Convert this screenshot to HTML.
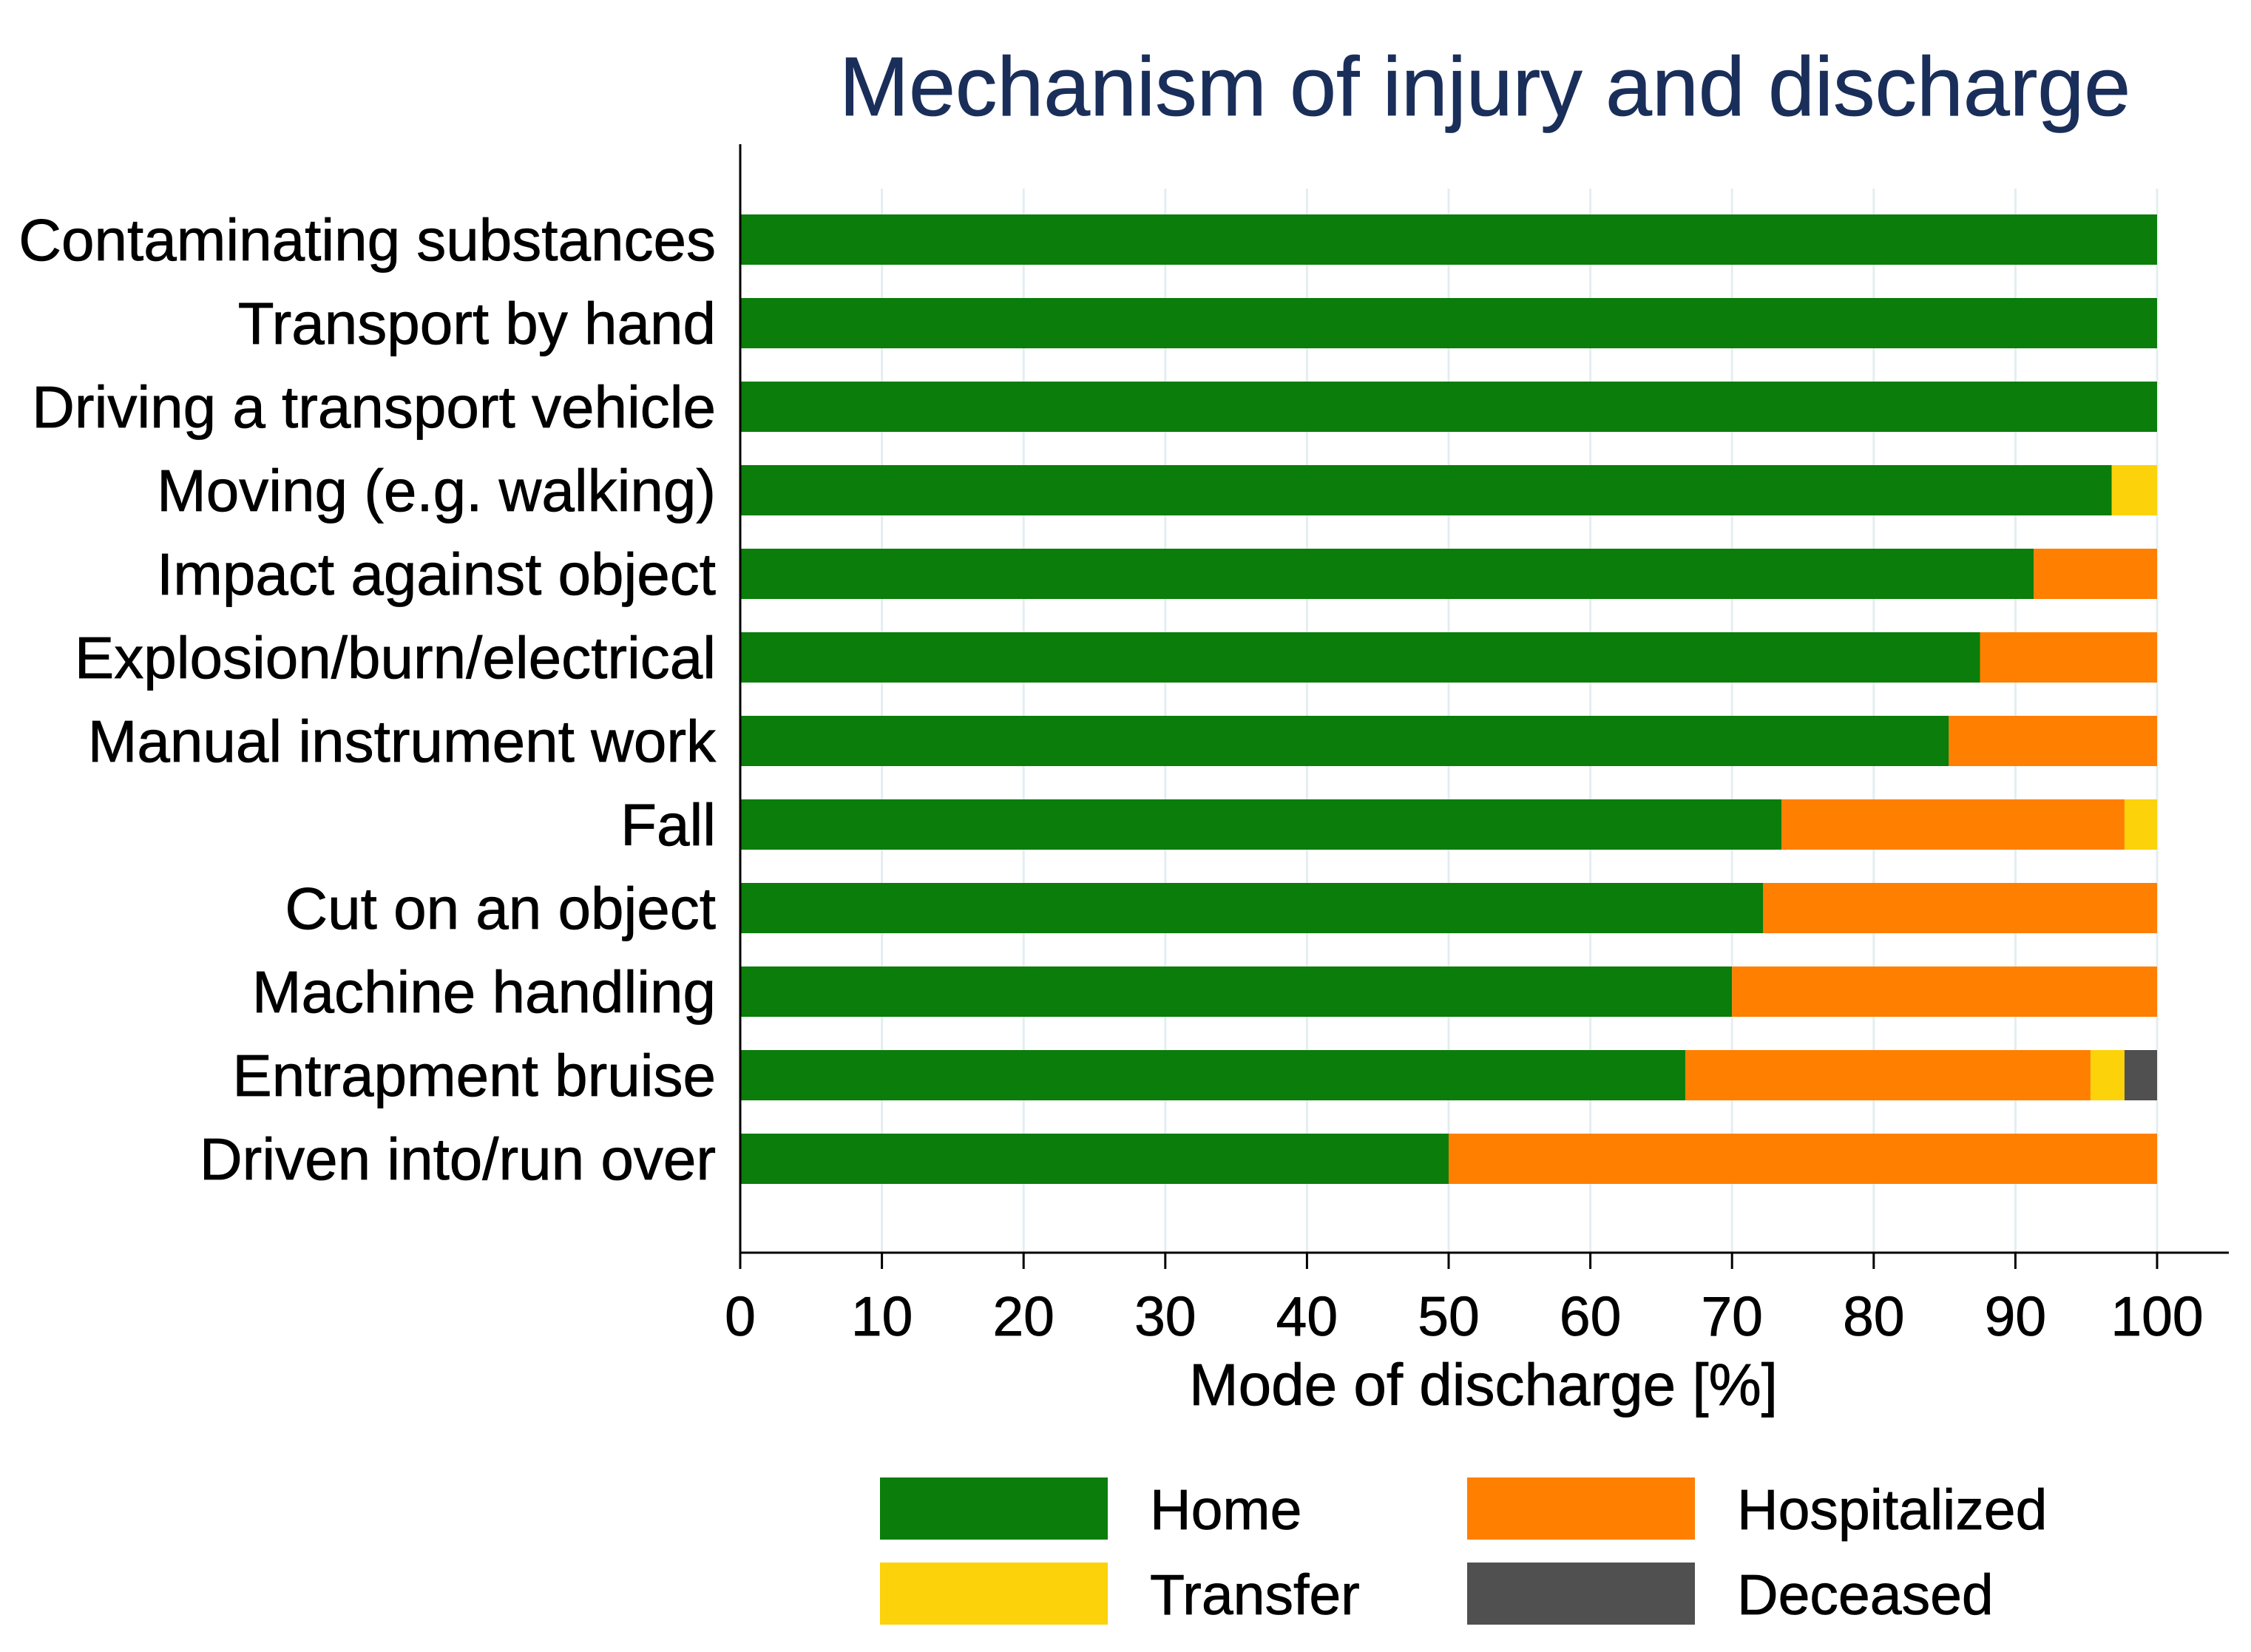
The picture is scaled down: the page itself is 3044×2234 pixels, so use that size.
<!DOCTYPE html>
<html><head><meta charset="utf-8"><style>
html,body{margin:0;padding:0;background:#fff;width:3044px;height:2234px;overflow:hidden}
svg{display:block;font-family:"Liberation Sans",Arial,sans-serif}
text{stroke:#000;stroke-width:0.8}
</style></head><body>
<svg id="chart" width="3044" height="2234">
<text x="2008" y="156" text-anchor="middle" font-size="113" fill="#1a2e5a" style="stroke:#1a2e5a">Mechanism of injury and discharge</text>
<g id="grid"></g><g id="bars"></g><g id="axes"></g><g id="legend"></g>
</svg>
<script>
const categories=["Contaminating substances","Transport by hand","Driving a transport vehicle","Moving (e.g. walking)","Impact against object","Explosion/burn/electrical","Manual instrument work","Fall","Cut on an object","Machine handling","Entrapment bruise","Driven into/run over"];
const home=[100,100,100,96.8,91.3,87.5,85.3,73.5,72.2,70,66.7,50];
const hospitalized=[0,0,0,0,8.7,12.5,14.7,24.2,27.8,30,28.6,50];
const transfer=[0,0,0,3.2,0,0,0,2.3,0,0,2.4,0];
const deceased=[0,0,0,0,0,0,0,0,0,0,2.3,0];
const ticks=[0,10,20,30,40,50,60,70,80,90,100];
const seriesNames=["Home","Hospitalized","Transfer","Deceased"];
const colors={"Home":"#0a7d0a","Hospitalized":"#ff7f00","Transfer":"#fcd20a","Deceased":"#505050"};
const NS="http://www.w3.org/2000/svg";
const X0=1001,X1=2917,yTop=195,yBot=1694,c0=324,step=113,bh=68;
const xs=v=>X0+(X1-X0)*v/100;
const ys=i=>c0+step*i;
function mk(t,a,p){const e=document.createElementNS(NS,t);for(const k in a)e.setAttribute(k,a[k]);p.appendChild(e);return e;}
const grid=document.getElementById('grid'),bars=document.getElementById('bars'),axes=document.getElementById('axes'),leg=document.getElementById('legend');
ticks.forEach(t=>{
 const g=mk('line',{x1:xs(t),x2:xs(t),y1:yTop+60,y2:yBot,stroke:'#e4eef2','stroke-width':3},grid);
 
 
 const tk=mk('line',{x1:xs(t),x2:xs(t),y1:yBot,y2:yBot+22,stroke:'#000','stroke-width':3},axes);
 
 
 const tl=mk('text',{x:xs(t),y:1806,'text-anchor':'middle','font-size':75},axes);
 tl.textContent=t;
 
 
});
const series={"Home":home,"Hospitalized":hospitalized,"Transfer":transfer,"Deceased":deceased};
categories.forEach((c,i)=>{
 let acc=0;
 seriesNames.forEach(s=>{
  const v=series[s][i];
  if(v>0){
   const r=mk('rect',{x:xs(acc),y:ys(i)-bh/2,width:xs(acc+v)-xs(acc),height:bh,fill:colors[s]},bars);
   
   
  }
  acc+=v;
 });
 const l=mk('text',{x:968,y:ys(i)+28,'text-anchor':'end','font-size':80},axes);
 l.textContent=c;
 
 
});
const ya=mk('line',{x1:X0,x2:X0,y1:yTop,y2:yBot+1,stroke:'#000','stroke-width':3},axes);


const xa=mk('line',{x1:X0-1,x2:3014,y1:yBot,y2:yBot,stroke:'#000','stroke-width':3},axes);


const xt=mk('text',{x:2006,y:1900,'text-anchor':'middle','font-size':80},axes);
xt.textContent="Mode of discharge [%]";


const legPos=[["Home",1190,1998],["Hospitalized",1984,1998],["Transfer",1190,2113],["Deceased",1984,2113]];
legPos.forEach(([s,x,y])=>{
 const r=mk('rect',{x:x,y:y,width:308,height:84,fill:colors[s]},leg);
 
 
 const t=mk('text',{x:x+365,y:y+70,'font-size':77},leg);
 t.textContent=s;
 
 
});
</script>
</body></html>
